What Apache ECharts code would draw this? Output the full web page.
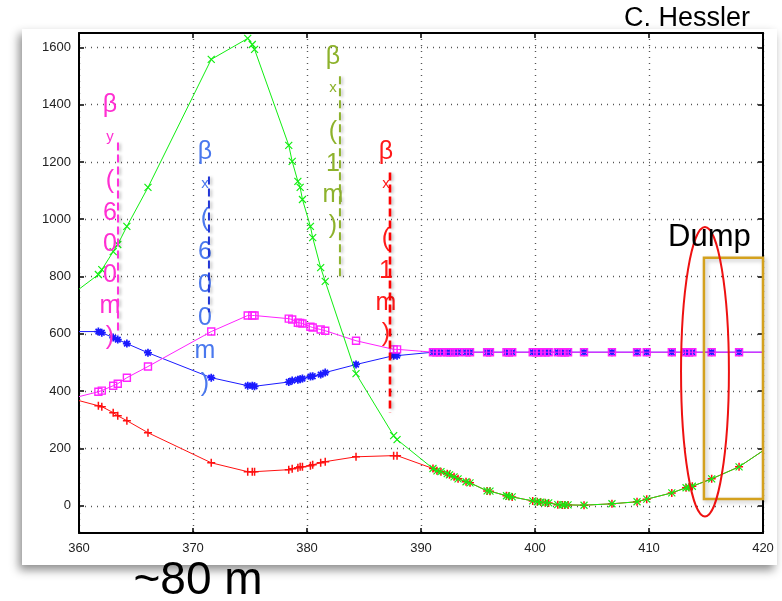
<!DOCTYPE html>
<html>
<head>
<meta charset="utf-8">
<script src="https://cdn.jsdelivr.net/npm/echarts@6/dist/echarts.min.js"></script>
<style>
  html, body { margin: 0; padding: 0; background: #fff; }
  #chart { width: 782px; height: 601px; }
</style>
</head>
<body>
<div id="chart"></div>
<script>
// Longitudinal position s [m] of the optics elements
const sPos = [
  360.0, 361.7, 362.0, 363.0, 363.4, 364.2, 366.05, 371.6, 374.8, 375.2, 375.4,
  378.4, 378.7, 379.2, 379.4, 379.6, 380.3, 380.5, 381.2, 381.6, 384.3, 387.6, 387.9,
  391.05, 391.4, 391.75, 392.3, 392.5, 392.9, 393.25, 393.95, 394.3, 395.8, 396.05,
  397.5, 397.7, 398.0, 399.8, 400.2, 400.5, 400.9, 401.2, 402.0, 402.4, 402.6, 402.9,
  404.3, 406.75, 408.95, 409.8, 412.0, 413.25, 413.5, 413.8, 415.5, 417.9, 420.0
];

// Beta functions [m] at each position
const betaGreen = [
  756, 807, 824, 887, 912, 975, 1111, 1558, 1631, 1610, 1593,
  1258, 1202, 1132, 1111, 1069, 975, 936, 831, 783, 461, 245, 231,
  130, 122, 119, 112, 108, 101, 94, 84, 80, 52, 51,
  35, 33, 31, 17, 14, 13, 11, 10, 4, 3, 3, 3,
  2, 7, 14, 23, 45, 63, 65, 68, 94, 136, 192
];
const betaRed = [
  367, 349, 346, 325, 314, 297, 255, 150, 119, 119, 119,
  126, 129, 133, 136, 136, 140, 143, 150, 154, 171, 175, 175,
  130, 122, 119, 112, 108, 101, 94, 84, 80, 52, 51,
  35, 33, 31, 17, 14, 13, 11, 10, 4, 3, 3, 3,
  2, 7, 14, 23, 45, 63, 65, 68, 94, 136, 192
];
const betaBlue = [
  608, 608, 604, 587, 580, 566, 534, 447, 419, 419, 417,
  432, 437, 440, 442, 444, 451, 452, 458, 465, 493, 524, 524,
  536, 536, 536, 536, 536, 536, 536, 536, 536, 536, 536,
  536, 536, 536, 536, 536, 536, 536, 536, 536, 536, 536, 536,
  536, 536, 536, 536, 536, 536, 536, 536, 536, 536, 536
];
const betaMagenta = [
  381, 398, 402, 419, 426, 447, 486, 608, 664, 664, 664,
  653, 650, 639, 638, 636, 625, 622, 615, 611, 576, 546, 546,
  536, 536, 536, 536, 536, 536, 536, 536, 536, 536, 536,
  536, 536, 536, 536, 536, 536, 536, 536, 536, 536, 536, 536,
  536, 536, 536, 536, 536, 536, 536, 536, 536, 536, 536
];

const xTicks = [360, 370, 380, 390, 400, 410, 420];
const yTicks = [0, 200, 400, 600, 800, 1000, 1200, 1400, 1600];

// Vertical beta labels with their dashed guide lines (data coordinates)
const betaLabels = [
  { sub: 'y', body: '(600m)', color: '#ff2fd2', lineColor: '#ff33dd', at: [362.72, 1397], gap: 76, step: 31.2, guide: [363.42, 1268, 597], width: 2 },
  { sub: 'x', body: '(600m)', color: '#4a78ee', lineColor: '#2236d6', at: [371.05, 1233], gap: 67, step: 33, guide: [371.40, 1149, 675], width: 2 },
  { sub: 'x', body: '(1m)', color: '#8db22c', lineColor: '#8db22c', at: [382.28, 1565], gap: 75, step: 31.3, guide: [382.89, 1499, 800], width: 2 },
  { sub: 'x', body: '(1m)', color: '#ff1a1a', lineColor: '#ff0000', at: [386.93, 1233], gap: 87, step: 31.7, guide: [387.28, 1163, 325], width: 2.6 }
];
// Dump region and its highlight
const dumpBox = [414.82, 866, 420, 24];
const dumpEllipse = { center: [414.91, 468], rs: 2.1, rBeta: 505 };

const FONT = "'Liberation Sans', Arial, sans-serif";
const SYM_X = 'path://M0,0L10,10M10,0L0,10';
const SYM_PLUS = 'path://M5,0L5,10M0,5L10,5';
const SYM_STAR = 'path://M5,0L5,10M0,5L10,5M1.5,1.5L8.5,8.5M8.5,1.5L1.5,8.5';

function toData(vals) {
  return sPos.map((s, i) =>
    (i === 0 || i === sPos.length - 1) ? { value: [s, vals[i]], symbol: 'none' } : [s, vals[i]]
  );
}

const frameAxisLine = { show: true, onZero: false, lineStyle: { color: '#000', width: 2 } };
const innerTick = { show: true, inside: true, length: 5, lineStyle: { color: '#000', width: 1.5 } };
const dotted = { show: true, lineStyle: { color: '#555', width: 1.4, type: [1, 5] } };

const chart = echarts.init(document.getElementById('chart'), null, { renderer: 'canvas' });

const option = {
  animation: false,
  backgroundColor: '#fff',
  grid: { left: 79, right: 19, top: 33, bottom: 68, containLabel: false, outerBoundsMode: 'none' },
  xAxis: [
    {
      type: 'value', min: xTicks[0], max: xTicks[xTicks.length - 1], interval: 10, position: 'bottom',
      axisLine: frameAxisLine, axisTick: innerTick,
      axisLabel: { color: '#222', fontSize: 13, fontFamily: FONT, margin: 9, formatter: v => String(v) },
      splitLine: dotted
    },
    {
      type: 'value', min: xTicks[0], max: xTicks[xTicks.length - 1], interval: 10, position: 'top',
      axisLine: frameAxisLine, axisTick: innerTick, axisLabel: { show: false }, splitLine: { show: false }
    }
  ],
  yAxis: [
    {
      type: 'value', min: -95, max: 1650, position: 'left',
      axisLine: frameAxisLine,
      axisTick: Object.assign({ customValues: yTicks }, innerTick),
      axisLabel: { customValues: yTicks, color: '#222', fontSize: 13, fontFamily: FONT, margin: 8, formatter: v => String(v) },
      splitLine: dotted
    },
    {
      type: 'value', min: -95, max: 1650, position: 'right',
      axisLine: frameAxisLine,
      axisTick: Object.assign({ customValues: yTicks }, innerTick),
      axisLabel: { show: false }, splitLine: { show: false }
    }
  ],
  series: [
    {
      name: 'beta red', type: 'line', data: toData(betaRed), symbol: SYM_PLUS, symbolSize: 8, showAllSymbol: true,
      lineStyle: { color: '#ff1111', width: 1 },
      itemStyle: { color: '#ff1111', borderColor: '#ff1111', borderWidth: 1.5 }, z: 2
    },
    {
      name: 'beta blue', type: 'line', data: toData(betaBlue), symbol: SYM_STAR, symbolSize: 8, showAllSymbol: true,
      lineStyle: { color: '#1a1aff', width: 1 },
      itemStyle: { color: '#1a1aff', borderColor: '#1a1aff', borderWidth: 1.7 }, z: 3
    },
    {
      name: 'beta magenta', type: 'line', data: toData(betaMagenta), symbol: 'rect', symbolSize: 7, showAllSymbol: true,
      lineStyle: { color: '#ff22ff', width: 1 },
      itemStyle: { color: 'rgba(0,0,0,0)', borderColor: '#ff22ff', borderWidth: 1.4 }, z: 4
    },
    {
      name: 'beta green', type: 'line', data: toData(betaGreen), symbol: SYM_X, symbolSize: 7, showAllSymbol: true,
      lineStyle: { color: '#11ee11', width: 1 },
      itemStyle: { color: '#11ee11', borderColor: '#11ee11', borderWidth: 1.2 }, z: 5
    }
  ]
};

chart.setOption(option);

const px = p => chart.convertToPixel({ seriesIndex: 0 }, p);
const gfx = [];

// white figure panel with drop shadow
gfx.push({
  type: 'rect', z: -10, silent: true,
  shape: { x: 22, y: 29, width: 755, height: 536 },
  style: { fill: '#fff', shadowBlur: 9, shadowOffsetX: -3, shadowOffsetY: 5, shadowColor: 'rgba(0,0,0,0.45)' }
});

betaLabels.forEach(lb => {
  const a = px(lb.at);
  const chars = [{ t: 'β', dy: 0, size: 25 }, { t: lb.sub, dy: 31, size: 15 }];
  lb.body.split('').forEach((c, k) => chars.push({ t: c, dy: lb.gap + k * lb.step, size: 25 }));
  chars.forEach(c => gfx.push({
    type: 'text', z: 10, silent: true,
    style: { text: c.t, x: a[0], y: a[1] + c.dy, fill: lb.color, font: c.size + 'px ' + FONT, align: 'center', verticalAlign: 'middle' }
  }));
  const p1 = px([lb.guide[0], lb.guide[1]]);
  const p2 = px([lb.guide[0], lb.guide[2]]);
  gfx.push({
    type: 'line', z: 11, silent: true,
    shape: { x1: p1[0], y1: p1[1], x2: p2[0], y2: p2[1] },
    style: { stroke: lb.lineColor, lineWidth: lb.width, lineDash: [8, 4], shadowBlur: 3, shadowOffsetX: 2, shadowOffsetY: 1, shadowColor: 'rgba(0,0,0,0.25)' }
  });
});

// dump box
const b1 = px([dumpBox[0], dumpBox[1]]);
const b2 = px([dumpBox[2], dumpBox[3]]);
gfx.push({
  type: 'rect', z: 12, silent: true,
  shape: { x: b1[0], y: b1[1], width: b2[0] - b1[0], height: b2[1] - b1[1] },
  style: { fill: 'none', stroke: '#d4a11e', lineWidth: 2.5, shadowBlur: 4, shadowOffsetX: 2, shadowOffsetY: 2, shadowColor: 'rgba(0,0,0,0.25)' }
});

// ellipse around the dump entrance
const ec = px(dumpEllipse.center);
const er = px([dumpEllipse.center[0] + dumpEllipse.rs, dumpEllipse.center[1] + dumpEllipse.rBeta]);
gfx.push({
  type: 'ellipse', z: 13, silent: true,
  shape: { cx: ec[0], cy: ec[1], rx: Math.abs(er[0] - ec[0]), ry: Math.abs(ec[1] - er[1]) },
  style: { fill: 'none', stroke: '#ee1111', lineWidth: 2 }
});

gfx.push({
  type: 'text', z: 14, silent: true,
  style: { text: 'Dump', x: 668, y: 237, fill: '#000', font: '31px ' + FONT, align: 'left', verticalAlign: 'middle' }
});
gfx.push({
  type: 'text', z: 14, silent: true,
  style: { text: 'C. Hessler', x: 750, y: 19, fill: '#000', font: '27px ' + FONT, align: 'right', verticalAlign: 'middle' }
});
gfx.push({
  type: 'text', z: 14, silent: true,
  style: { text: '~80 m', x: 198, y: 581, fill: '#000', font: '46px ' + FONT, align: 'center', verticalAlign: 'middle' }
});

chart.setOption({ graphic: gfx });
</script>
</body>
</html>
